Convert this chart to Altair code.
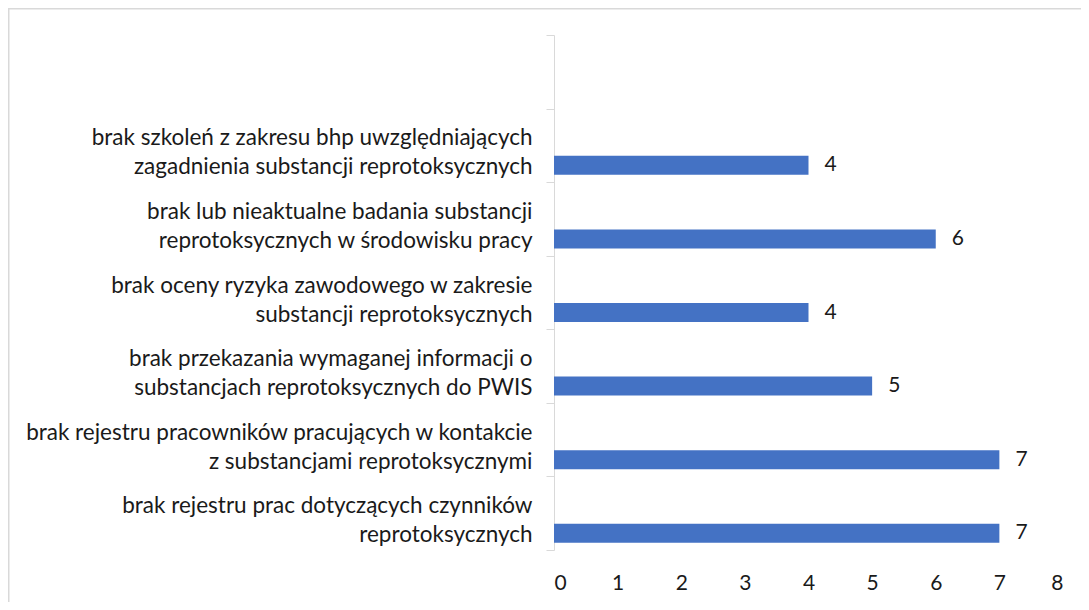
import altair as alt
import pandas as pd

categories = [
    "brak szkoleń z zakresu bhp uwzględniających|zagadnienia substancji reprotoksycznych",
    "brak lub nieaktualne badania substancji|reprotoksycznych w środowisku pracy",
    "brak oceny ryzyka zawodowego w zakresie|substancji reprotoksycznych",
    "brak przekazania wymaganej informacji o|substancjach reprotoksycznych do PWIS",
    "brak rejestru pracowników pracujących w kontakcie|z substancjami reprotoksycznymi",
    "brak rejestru prac dotyczących czynników|reprotoksycznych",
]
values = [4, 6, 4, 5, 7, 7]
x_ticks = [0, 1, 2, 3, 4, 5, 6, 7, 8]
domain_order = [" "] + categories

df = pd.DataFrame({"cat": categories, "val": values})

FONT = "Lato"
FS_CAT = 22.5
FS_NUM = 21
TXT = "#1a1a1a"
GRID = "#d9d9d9"

W, H = 509, 515
PL, PT, PR, PB = 546, 27, 18, 52

y_enc = alt.Y(
    "cat:N",
    scale=alt.Scale(domain=domain_order, paddingInner=0, paddingOuter=0),
    axis=alt.Axis(
        title=None,
        labelExpr="isString(datum.value) ? split(datum.value, '|') : ''",
        labelFont=FONT,
        labelFontSize=FS_CAT,
        labelColor=TXT,
        labelLineHeight=29,
        labelLimit=700,
        labelPadding=14,
        labelOffset=-7.5,
        labelAlign="right",
        labelBaseline="middle",
        domainColor=GRID,
        tickColor=GRID,
        tickSize=8,
        tickBand="extent",
        grid=False,
    ),
)

x_enc = alt.X(
    "val:Q",
    scale=alt.Scale(domain=[0, 8], nice=False),
    axis=alt.Axis(
        title=None,
        values=x_ticks,
        format="d",
        domain=False,
        ticks=False,
        tickSize=0,
        grid=False,
        labelFont=FONT,
        labelFontSize=FS_NUM,
        labelColor=TXT,
        labelPadding=22,
    ),
)

bars = alt.Chart(df).mark_bar(color="#4472C4", height=19, yOffset=20).encode(
    y=y_enc, x=x_enc
)

labels = alt.Chart(df).mark_text(
    align="left", baseline="middle", dx=16, yOffset=20,
    font=FONT, fontSize=FS_NUM, color=TXT
).encode(y="cat:N", x="val:Q", text="val:Q")

border = alt.Chart(alt.Data(values=[{}])).mark_rect(
    fill=None, stroke=GRID, strokeWidth=1.5
).encode(
    x=alt.value(-PL + 0.75),
    x2=alt.value(W + PR + 20),
    y=alt.value(-PT + 0.75),
    y2=alt.value(H + PB + 20),
)

chart = alt.layer(border, bars, labels).properties(
    width=W, height=H,
    autosize=alt.AutoSizeParams(type="none"),
    padding={"left": PL, "top": PT, "right": PR, "bottom": PB},
    background="white",
).configure_view(stroke=None)

chart.save("out.html", embed_options={"renderer": "svg", "actions": False})
